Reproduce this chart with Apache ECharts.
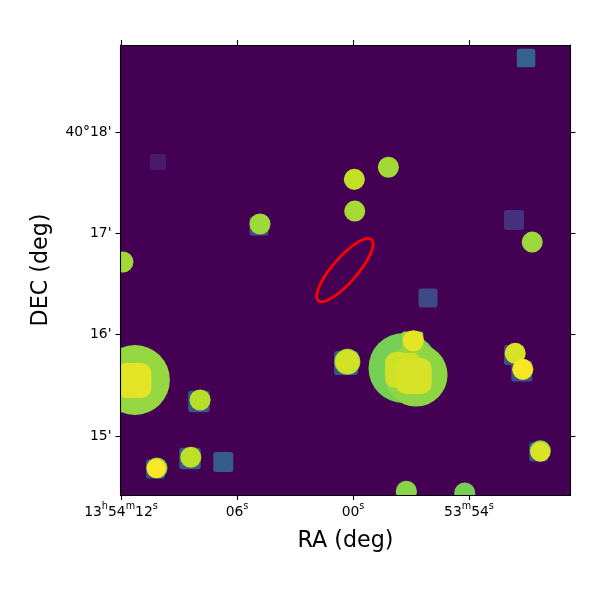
<!DOCTYPE html>
<html><head><meta charset="utf-8">
<style>html,body{margin:0;padding:0;background:#fff}#c{width:600px;height:600px}</style>
<script src="https://cdn.jsdelivr.net/npm/echarts@6/dist/echarts.min.js"></script>
</head><body><div id="c"></div>
<script>
// Each row: RA seconds from 13h54m00s, DEC arcmin from 40deg, angular size (arcmin), map level
const wideDiscs = [
  [-2.61, 15.671, 0.345, 0.79],
  [-3.26, 15.602, 0.311, 0.83],
  [11.28, 15.553, 0.345, 0.84]
];
const blobs = [
  [11.33, 15.548, 0.345, 0.96],
  [-2.59, 15.651, 0.355, 0.925],
  [-3.14, 15.592, 0.355, 0.94]
];
const boxes = [
  [-8.95, 18.730, 0.183, 0.31],
  [-8.33, 17.132, 0.197, 0.14],
  [10.09, 17.704, 0.158, 0.07],
  [-3.88, 16.362, 0.187, 0.22],
  [6.71, 14.743, 0.197, 0.29],
  [7.97, 15.340, 0.212, 0.27],
  [8.43, 14.778, 0.212, 0.28],
  [-8.73, 15.641, 0.207, 0.25],
  [-8.33, 15.799, 0.197, 0.25],
  [-9.60, 14.842, 0.187, 0.25],
  [4.86, 17.072, 0.187, 0.25],
  [0.36, 15.720, 0.237, 0.26],
  [10.22, 14.674, 0.187, 0.25],
  [-3.08, 15.925, 0.212, 0.84]
];
const discs = [
  [-0.07, 17.533, 0.104, 0.91],
  [-1.83, 17.652, 0.104, 0.86],
  [-0.09, 17.220, 0.104, 0.865],
  [4.81, 17.092, 0.104, 0.855],
  [11.90, 16.717, 0.104, 0.86],
  [-9.27, 16.914, 0.104, 0.85],
  [0.29, 15.733, 0.128, 0.85],
  [0.29, 15.733, 0.118, 0.93],
  [7.91, 15.355, 0.104, 0.89],
  [8.39, 14.790, 0.104, 0.90],
  [10.14, 14.684, 0.104, 0.83],
  [10.18, 14.680, 0.095, 1.0],
  [-8.39, 15.816, 0.104, 0.94],
  [-8.78, 15.658, 0.104, 0.99],
  [-9.69, 14.855, 0.104, 0.80],
  [-9.69, 14.845, 0.098, 0.945],
  [-3.12, 15.940, 0.104, 0.965],
  [-2.76, 14.455, 0.104, 0.82],
  [-5.78, 14.437, 0.104, 0.79]
];
const ellipseRow = [[0.42, 16.638, 0.40, 0.122, 49]];
const raTicks = [12, 6, 0, -6];
const decTicks = [18, 17, 16, 15];
const raLabels = ['{n|13}{s|h}{n|54}{s|m}{n|12}{s|s}', '{n|06}{s|s}', '{n|00}{s|s}', '{n|53}{s|m}{n|54}{s|s}'];
const decLabels = ["40°18'", "17'", "16'", "15'"];
const viridis = ['#440154','#482475','#414487','#355f8d','#2a788e','#21918c','#22a884','#44bf70','#7ad151','#bddf26','#fde725'];

const F = 'DejaVu Sans';
const chart = echarts.init(document.getElementById('c'), null, {renderer:'canvas'});
const ax = (extra) => Object.assign({
  type:'value', splitLine:{show:false}, z:6,
  axisLine:{show:true, onZero:false, lineStyle:{color:'#000', width:1.1}},
  axisTick:{show:true, length:5, inside:false, lineStyle:{color:'#000', width:1.1}},
  axisLabel:{show:false}
}, extra);
const xBase = {min:-11.25, max:12.026, inverse:true};
const yBase = {min:14.418, max:18.859};
const discItem = (p, api) => {
  const c = api.coord([api.value(0), api.value(1)]);
  const r = api.size([0, api.value(2)])[1];
  return {type:'circle', shape:{cx:c[0], cy:c[1], r}, style:{fill:api.visual('color')}};
};
const boxShape = (round) => (p, api) => {
  const c = api.coord([api.value(0), api.value(1)]);
  const s = api.size([0, api.value(2)])[1];
  return {type:'rect', shape:{x:c[0]-s/2, y:c[1]-s/2, width:s, height:s, r:s*round}, style:{fill:api.visual('color')}};
};
const ellipseItem = (p, api) => {
  const c = api.coord([api.value(0), api.value(1)]);
  return {type:'ellipse', x:c[0], y:c[1], rotation:api.value(4)*Math.PI/180,
    shape:{cx:0, cy:0, rx:api.size([0, api.value(2)])[1], ry:api.size([0, api.value(3)])[1]},
    style:{fill:null, stroke:'#ff0000', lineWidth:2.8}};
};
const layer = (data, renderItem, z) => ({type:'custom', data, renderItem, clip:true, z,
  encode:{x:0, y:1}, silent:true, animation:false, dimensions:['ra','dec','size','level','extra']});
chart.setOption({
  animation:false,
  backgroundColor:'#fff',
  grid:{left:120.5, right:29.5, top:45, bottom:105, show:true, backgroundColor:'#440154', borderWidth:0},
  visualMap:{show:false, type:'continuous', min:0, max:1, dimension:3, seriesIndex:[0,1,2,3], inRange:{color:viridis}},
  xAxis:[
    ax(Object.assign({}, xBase, {position:'bottom', name:'RA (deg)', nameLocation:'middle', nameGap:35,
      nameTextStyle:{fontFamily:F, fontSize:22.2, color:'#000'},
      axisTick:{show:true, length:5, lineStyle:{color:'#000', width:1.1}, customValues:raTicks},
      axisLabel:{show:true, margin:6, customValues:raTicks, hideOverlap:false,
        formatter:(v)=>raLabels[raTicks.indexOf(v)],
        rich:{n:{fontFamily:F, fontSize:13.9, color:'#000', lineHeight:18, verticalAlign:'bottom'},
              s:{fontFamily:F, fontSize:9.7, color:'#000', lineHeight:18, verticalAlign:'top'}}}})),
    ax(Object.assign({}, xBase, {position:'top',
      axisTick:{show:true, length:5, lineStyle:{color:'#000', width:1.1}, customValues:raTicks}}))
  ],
  yAxis:[
    ax(Object.assign({}, yBase, {position:'left', name:'DEC (deg)', nameLocation:'middle', nameGap:68,
      nameTextStyle:{fontFamily:F, fontSize:22.2, color:'#000'},
      axisTick:{show:true, length:5, lineStyle:{color:'#000', width:1.1}, customValues:decTicks},
      axisLabel:{show:true, margin:9, padding:[2,0,0,0], customValues:decTicks, fontFamily:F, fontSize:13.9, color:'#000',
        formatter:(v)=>decLabels[decTicks.indexOf(v)]}})),
    ax(Object.assign({}, yBase, {position:'right',
      axisTick:{show:true, length:5, lineStyle:{color:'#000', width:1.1}, customValues:decTicks}}))
  ],
  series:[
    layer(wideDiscs, discItem, 2),
    layer(blobs, boxShape(0.29), 3),
    layer(boxes, boxShape(0.14), 3),
    layer(discs, discItem, 4),
    layer(ellipseRow, ellipseItem, 5)
  ]
});
</script></body></html>
